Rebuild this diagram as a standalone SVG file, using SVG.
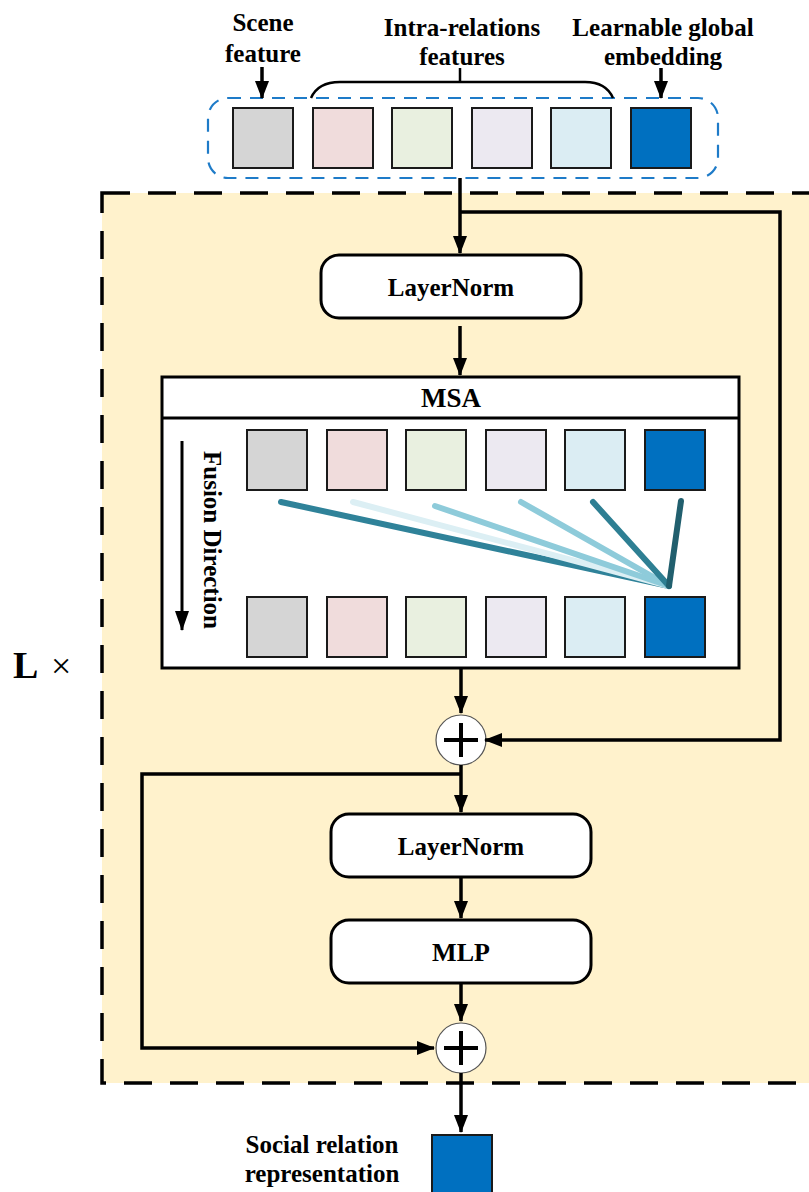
<svg xmlns="http://www.w3.org/2000/svg" width="809" height="1192" viewBox="0 0 809 1192">
<style>
.t{font-family:"Liberation Serif","Times New Roman",serif;font-weight:bold;fill:#000;text-anchor:middle}
.sq{stroke:#1a1a1a;stroke-width:2}
.c1{fill:#D5D5D5}.c2{fill:#F0DCDC}.c3{fill:#E9F0E0}.c4{fill:#ECE9F1}.c5{fill:#DBEDF3}.c6{fill:#0070C0}
.ln{stroke:#000;stroke-width:3.5;fill:none}
.box{fill:#fff;stroke:#000;stroke-width:3}
.fl{stroke-width:6;stroke-linecap:round;fill:none}
</style>
<defs>
<marker id="ah" viewBox="0 0 18 14" refX="17" refY="7" markerWidth="18" markerHeight="14" markerUnits="userSpaceOnUse" orient="auto">
<path d="M0,0 L18,7 L0,14 z" fill="#000"/>
</marker>
<marker id="ahv" viewBox="0 0 14 18" refX="7" refY="17" markerWidth="14" markerHeight="18" markerUnits="userSpaceOnUse" orient="0">
<path d="M0,0 L14,0 L7,18 z" fill="#000"/>
</marker>
<marker id="ahf" viewBox="0 0 14 20" refX="7" refY="19" markerWidth="14" markerHeight="20" markerUnits="userSpaceOnUse" orient="0">
<path d="M0,0 L14,0 L7,20 z" fill="#000"/>
</marker>
</defs>
<rect width="809" height="1192" fill="#fff"/>

<g id="repeat-block">
<rect x="102" y="193" width="730" height="890" fill="#FFF2CC" stroke="#000" stroke-width="3.5" stroke-dasharray="28 18"/>
<text x="13" y="678" font-family="Liberation Serif,serif" font-weight="bold" font-size="38">L</text>
<text x="51" y="678" font-family="Liberation Serif,serif" font-size="36">×</text>
</g>

<g id="input-tokens">
<rect x="208" y="98" width="510" height="80" rx="20" fill="none" stroke="#1E7BC8" stroke-width="2.2" stroke-dasharray="13 9"/>
<rect class="sq c1" x="233" y="108" width="60" height="60"/>
<rect class="sq c2" x="313" y="108" width="60" height="60"/>
<rect class="sq c3" x="392" y="108" width="60" height="60"/>
<rect class="sq c4" x="472" y="108" width="60" height="60"/>
<rect class="sq c5" x="551" y="108" width="60" height="60"/>
<rect class="sq c6" x="631" y="108" width="60" height="60"/>
</g>

<g id="labels-top">
<text class="t" x="263" y="31" font-size="25">Scene</text>
<text class="t" x="263" y="62" font-size="25">feature</text>
<text class="t" x="462" y="36" font-size="25">Intra-relations</text>
<text class="t" x="462" y="65" font-size="25">features</text>
<text class="t" x="663" y="36" font-size="25">Learnable global</text>
<text class="t" x="663" y="65" font-size="25">embedding</text>
<path d="M311,98 Q318,82 340,82 L585,82 Q606,82 613,98" fill="none" stroke="#000" stroke-width="2.5"/>
<line x1="460" y1="82" x2="460" y2="68" stroke="#000" stroke-width="2.5"/>
<line class="ln" x1="262" y1="67" x2="262" y2="98" marker-end="url(#ahv)"/>
<line class="ln" x1="661" y1="68" x2="661" y2="98" marker-end="url(#ahv)"/>
</g>

<g id="layernorm1">
<rect class="box" x="321" y="255" width="260" height="63" rx="18"/>
<text class="t" x="451" y="296" font-size="25">LayerNorm</text>
</g>

<g id="msa">
<rect x="162" y="377" width="577" height="291" fill="#fff" stroke="#000" stroke-width="3"/>
<line x1="162" y1="418" x2="739" y2="418" stroke="#000" stroke-width="3"/>
<text class="t" x="451" y="407" font-size="27">MSA</text>
<rect class="sq c1" x="247" y="430" width="60" height="60"/>
<rect class="sq c2" x="327" y="430" width="60" height="60"/>
<rect class="sq c3" x="406" y="430" width="60" height="60"/>
<rect class="sq c4" x="486" y="430" width="60" height="60"/>
<rect class="sq c5" x="565" y="430" width="60" height="60"/>
<rect class="sq c6" x="645" y="430" width="60" height="60"/>
<rect class="sq c1" x="247" y="597" width="60" height="60"/>
<rect class="sq c2" x="327" y="597" width="60" height="60"/>
<rect class="sq c3" x="406" y="597" width="60" height="60"/>
<rect class="sq c4" x="486" y="597" width="60" height="60"/>
<rect class="sq c5" x="565" y="597" width="60" height="60"/>
<rect class="sq c6" x="645" y="597" width="60" height="60"/>
<line class="fl" x1="281" y1="502" x2="669" y2="586" stroke="#2F8299"/>
<line class="fl" x1="353" y1="502" x2="669" y2="586" stroke="#DCEFF4"/>
<line class="fl" x1="435" y1="506" x2="669" y2="586" stroke="#8ECBDA"/>
<line class="fl" x1="521" y1="502" x2="669" y2="586" stroke="#8ECBDA"/>
<line class="fl" x1="593" y1="502" x2="669" y2="586" stroke="#2E7F93"/>
<line class="fl" x1="681" y1="501" x2="669" y2="586" stroke="#215F6E"/>
<line x1="182" y1="441" x2="182" y2="630" stroke="#000" stroke-width="3" marker-end="url(#ahf)"/>
<text class="t" font-size="25" transform="translate(204,540) rotate(90)">Fusion Direction</text>
</g>

<g id="add1">
<circle cx="461" cy="740" r="25" fill="#fff" stroke="#555" stroke-width="1.2"/>
<path d="M444,740 H478 M461,723 V757" stroke="#000" stroke-width="4"/>
</g>

<g id="layernorm2">
<rect class="box" x="331" y="814" width="260" height="63" rx="18"/>
<text class="t" x="461" y="855" font-size="25">LayerNorm</text>
</g>

<g id="mlp">
<rect class="box" x="331" y="920" width="260" height="63" rx="18"/>
<text class="t" x="461" y="961" font-size="26">MLP</text>
</g>

<g id="add2">
<circle cx="461" cy="1048" r="25" fill="#fff" stroke="#555" stroke-width="1.2"/>
<path d="M444,1048 H478 M461,1031 V1065" stroke="#000" stroke-width="4"/>
</g>

<g id="output">
<rect class="sq c6" x="432" y="1135" width="60" height="62"/>
<text class="t" x="322" y="1153" font-size="25">Social relation</text>
<text class="t" x="322" y="1182" font-size="25">representation</text>
</g>

<g id="connectors">
<line class="ln" x1="460" y1="178" x2="460" y2="253" marker-end="url(#ahv)"/>
<polyline class="ln" points="460,212 780,212 780,740 485,740" marker-end="url(#ah)"/>
<line class="ln" x1="460" y1="326" x2="460" y2="375" marker-end="url(#ahv)"/>
<line class="ln" x1="461" y1="668" x2="461" y2="713" marker-end="url(#ahv)"/>
<line class="ln" x1="461" y1="765" x2="461" y2="812" marker-end="url(#ahv)"/>
<polyline class="ln" points="461,774 142,774 142,1048 434,1048" marker-end="url(#ah)"/>
<line class="ln" x1="461" y1="877" x2="461" y2="918" marker-end="url(#ahv)"/>
<line class="ln" x1="461" y1="983" x2="461" y2="1021" marker-end="url(#ahv)"/>
<line class="ln" x1="461" y1="1073" x2="461" y2="1132" marker-end="url(#ahv)"/>
</g>
</svg>
